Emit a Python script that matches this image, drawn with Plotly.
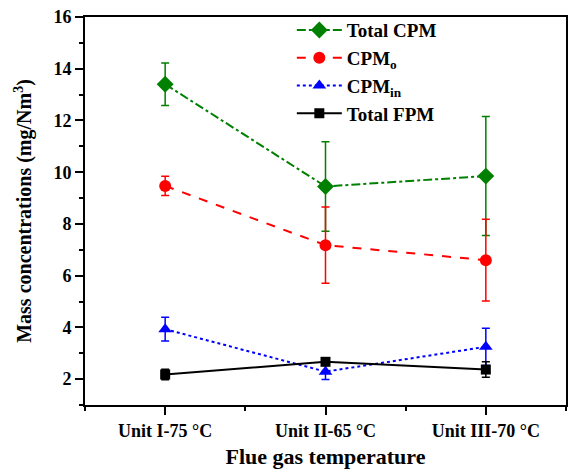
import plotly.graph_objects as go

categories = ["Unit I-75 °C", "Unit II-65 °C", "Unit III-70 °C"]
x_pos = [1, 2, 3]

total_cpm = [13.4, 9.45, 9.85]
total_cpm_err = [0.82, 1.73, 2.3]
cpm_o = [9.47, 7.18, 6.6]
cpm_o_err = [0.37, 1.47, 1.58]
cpm_in = [3.93, 2.29, 3.25]
cpm_in_err = [0.46, 0.3, 0.72]
total_fpm = [2.18, 2.67, 2.37]
total_fpm_err = [0.2, 0.05, 0.3]

FONT = "Liberation Serif"

series = [
    ("Total CPM", total_cpm, total_cpm_err, "#008000", "dashdot", "diamond", 13),
    ("CPM<sub>o</sub>", cpm_o, cpm_o_err, "#ff0000", "dash", "circle", 12),
    ("CPM<sub>in</sub>", cpm_in, cpm_in_err, "#0000ff", "dot", "triangle-up", 12),
    ("Total FPM", total_fpm, total_fpm_err, "#000000", "solid", "square", 10),
]

fig = go.Figure()
for i, (name, y, err, color, dash, sym, size) in enumerate(series):
    fig.add_trace(go.Scatter(
        x=x_pos, y=y, name=name, mode="lines+markers",
        line=dict(color=color, width=2, dash=dash),
        marker=dict(color=color, symbol=sym, size=size),
        error_y=dict(type="data", array=err, visible=True, color=color,
                     thickness=1.5, width=4),
    ))

fig.update_layout(
    width=571, height=473,
    margin=dict(l=85, r=3, t=17, b=68),
    plot_bgcolor="white", paper_bgcolor="white",
    font=dict(family=FONT, size=18, color="black", weight="bold"),
    showlegend=True,
    legend=dict(x=0.43, y=1.015, xanchor="left", yanchor="top",
                bgcolor="rgba(0,0,0,0)", font=dict(family=FONT, size=19, weight="bold"),
                itemwidth=45),
    xaxis=dict(
        range=[0.5, 3.5], tickmode="array", tickvals=x_pos,
        ticktext=categories,
        ticks="outside", ticklen=8, tickwidth=1.5, tickcolor="black",
        minor=dict(tickvals=[0.5, 1.5, 2.5, 3.5], ticks="outside", ticklen=4,
                   tickwidth=1.5, tickcolor="black"),
        showline=True, linecolor="black", linewidth=2, mirror=True,
        showgrid=False, zeroline=False,
        title=dict(text="Flue gas temperature", font=dict(size=22, weight="bold"), standoff=9),
        tickfont=dict(size=18, weight="bold"),
    ),
    yaxis=dict(
        range=[1, 16], tickmode="array", tickvals=[2, 4, 6, 8, 10, 12, 14, 16],
        ticktext=[str(v) for v in [2, 4, 6, 8, 10, 12, 14, 16]],
        ticks="outside", ticklen=8, tickwidth=1.5, tickcolor="black",
        minor=dict(tickvals=[1, 3, 5, 7, 9, 11, 13, 15], ticks="outside", ticklen=4,
                   tickwidth=1.5, tickcolor="black"),
        showline=True, linecolor="black", linewidth=2, mirror=True,
        showgrid=False, zeroline=False,
        title=dict(text="Mass concentrations (mg/Nm<sup>3</sup>)", font=dict(size=20, weight="bold"), standoff=16),
        tickfont=dict(size=18, weight="bold"),
    ),
)

fig.write_html("out.html")
